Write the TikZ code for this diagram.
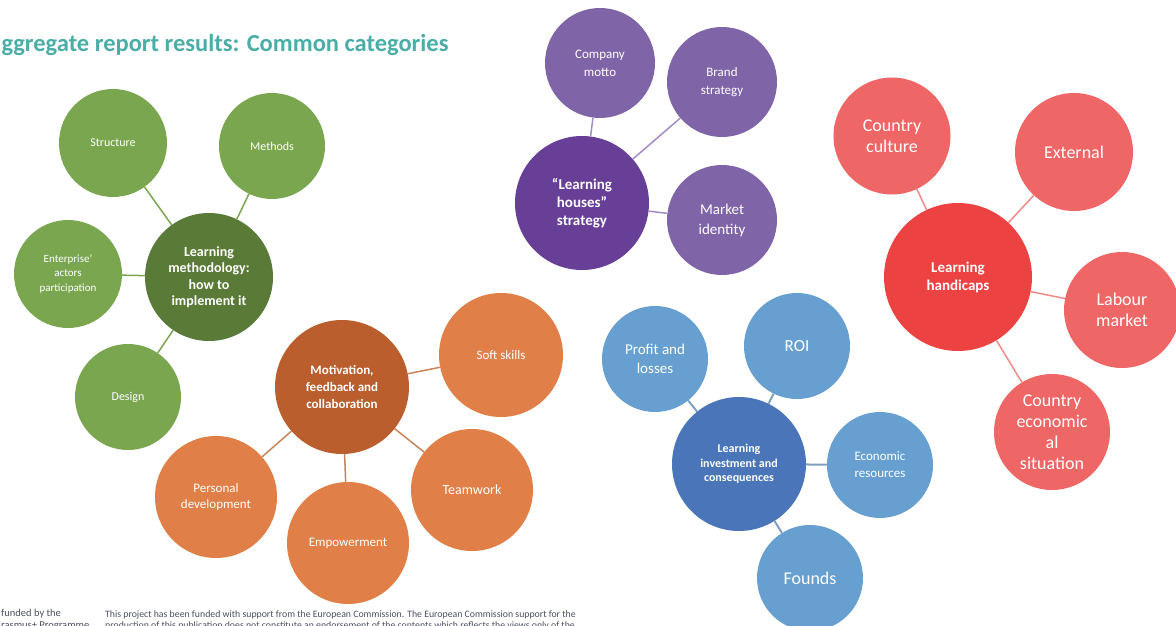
\documentclass[tikz,border=0pt]{standalone}
\usepackage{fontspec}
\setmainfont{Carlito}
\usetikzlibrary{positioning}

\definecolor{titleteal}{HTML}{4AADA6}
\definecolor{grnhub}{HTML}{5A7A38}
\definecolor{grnsat}{HTML}{7AA64F}
\definecolor{orghub}{HTML}{B95E2C}
\definecolor{orgsat}{HTML}{E08048}
\definecolor{orgline}{HTML}{C8845C}
\definecolor{purhub}{HTML}{673F97}
\definecolor{pursat}{HTML}{8064A8}
\definecolor{purline}{HTML}{A28DC6}
\definecolor{redhub}{HTML}{EC4241}
\definecolor{redsat}{HTML}{EE6666}
\definecolor{redline}{HTML}{F08A8A}
\definecolor{bluhub}{HTML}{4A76B9}
\definecolor{blusat}{HTML}{67A0D0}
\definecolor{bluline}{HTML}{7F9FBF}
\definecolor{footgray}{HTML}{4A5060}

\begin{document}
\begin{tikzpicture}[x=1pt, y=-1pt,
    bubble/.style={circle, inner sep=0pt, align=center, text=white, minimum size=#1},
    link/.style={line width=1.5pt}]
    \useasboundingbox (0,0) rectangle (1176,626);

    % title and footer
    \node[anchor=west, text=titleteal, font=\bfseries\fontsize{24.5}{28}\selectfont] (title) at (-2,45) {ggregate report results: Common categories};
    \node[anchor=north west, inner sep=0pt, align=left, text=footgray, font=\fontsize{10.5}{12}\selectfont] (cofund) at (1,609) {funded by the\\rasmus+ Programme};
    \node[anchor=north west, inner sep=0pt, align=left, text=footgray, font=\fontsize{9.8}{11.5}\selectfont] (disclaimer) at (105,610) {This project has been funded with support from the European Commission. The European Commission support for the\\production of this publication does not constitute an endorsement of the contents which reflects the views only of the};

    % learning methodology
    \node[bubble=128pt, fill=grnhub, font=\bfseries\fontsize{14}{16.5}\selectfont] (method) at (209,277) {Learning\\methodology:\\how to\\implement it};
    \node[bubble=108pt, fill=grnsat, font=\fontsize{12}{14}\selectfont] (structure) at (113,143) {Structure};
    \node[bubble=106pt, fill=grnsat, font=\fontsize{12}{14}\selectfont] (methods) at (272,146) {Methods};
    \node[bubble=108pt, fill=grnsat, font=\fontsize{11}{14.5}\selectfont] (enterprise) at (68,274) {Enterprise'\\actors\\participation};
    \node[bubble=106pt, fill=grnsat, font=\fontsize{12}{14}\selectfont] (design) at (128,397) {Design};
    \draw[link, grnsat] (method) -- (structure);
    \draw[link, grnsat] (method) -- (methods);
    \draw[link, grnsat] (method) -- (enterprise);
    \draw[link, grnsat] (method) -- (design);

    % motivation
    \node[bubble=134pt, fill=orghub, font=\bfseries\fontsize{13}{17}\selectfont] (motiv) at (342,387) {Motivation,\\feedback and\\collaboration};
    \node[bubble=124pt, fill=orgsat, font=\fontsize{13}{16}\selectfont] (soft) at (501,355) {Soft skills};
    \node[bubble=122pt, fill=orgsat, font=\fontsize{14}{16}\selectfont] (team) at (472,490) {Teamwork};
    \node[bubble=122pt, fill=orgsat, font=\fontsize{13}{16}\selectfont] (empower) at (348,543) {Empowerment};
    \node[bubble=122pt, fill=orgsat, font=\fontsize{13}{16}\selectfont] (personal) at (216,497) {Personal\\development};
    \draw[link, orgline] (motiv) -- (soft);
    \draw[link, orgline] (motiv) -- (team);
    \draw[link, orgline] (motiv) -- (empower);
    \draw[link, orgline] (motiv) -- (personal);

    % learning houses
    \node[bubble=134pt, fill=purhub, font=\bfseries\fontsize{15}{18}\selectfont] (houses) at (582,203) {“Learning\\houses”\\strategy};
    \node[bubble=110pt, fill=pursat, font=\fontsize{13}{18}\selectfont] (motto) at (600,63) {Company\\motto};
    \node[bubble=110pt, fill=pursat, font=\fontsize{13}{18}\selectfont] (brand) at (722,82) {Brand\\strategy};
    \node[bubble=110pt, fill=pursat, font=\fontsize{15}{20}\selectfont] (market) at (722,220) {Market\\identity};
    \draw[link, purline] (houses) -- (motto);
    \draw[link, purline] (houses) -- (brand);
    \draw[link, purline] (houses) -- (market);

    % learning handicaps
    \node[bubble=148pt, fill=redhub, font=\bfseries\fontsize{15}{18}\selectfont] (handicap) at (958,277) {Learning\\handicaps};
    \node[bubble=117pt, fill=redsat, font=\fontsize{18}{21}\selectfont] (culture) at (892,136) {Country\\culture};
    \node[bubble=118pt, fill=redsat, font=\fontsize{18}{21}\selectfont] (external) at (1074,152) {External};
    \node[bubble=116pt, fill=redsat, font=\fontsize{18}{21}\selectfont] (labour) at (1122,310) {Labour\\market};
    \node[bubble=116pt, fill=redsat, font=\fontsize{18}{21}\selectfont] (economy) at (1052,432) {Country\\economic\\al\\situation};
    \draw[link, redline] (handicap) -- (culture);
    \draw[link, redline] (handicap) -- (external);
    \draw[link, redline] (handicap) -- (labour);
    \draw[link, redline] (handicap) -- (economy);

    % learning investment
    \node[bubble=134pt, fill=bluhub, font=\bfseries\fontsize{12}{14.5}\selectfont] (invest) at (739,464) {Learning\\investment and\\consequences};
    \node[bubble=106pt, fill=blusat, font=\fontsize{15}{19}\selectfont] (profit) at (655,359) {Profit and\\losses};
    \node[bubble=106pt, fill=blusat, font=\fontsize{17}{20}\selectfont] (roi) at (797,346) {ROI};
    \node[bubble=106pt, fill=blusat, font=\fontsize{13}{17}\selectfont] (resources) at (880,465) {Economic\\resources};
    \node[bubble=106pt, fill=blusat, font=\fontsize{18}{21}\selectfont] (founds) at (810,578) {Founds};
    \draw[link, bluline, line width=2pt] (invest) -- (profit);
    \draw[link, bluline, line width=2pt] (invest) -- (roi);
    \draw[link, bluline, line width=2pt] (invest) -- (resources);
    \draw[link, bluline, line width=2pt] (invest) -- (founds);
\end{tikzpicture}
\end{document}
